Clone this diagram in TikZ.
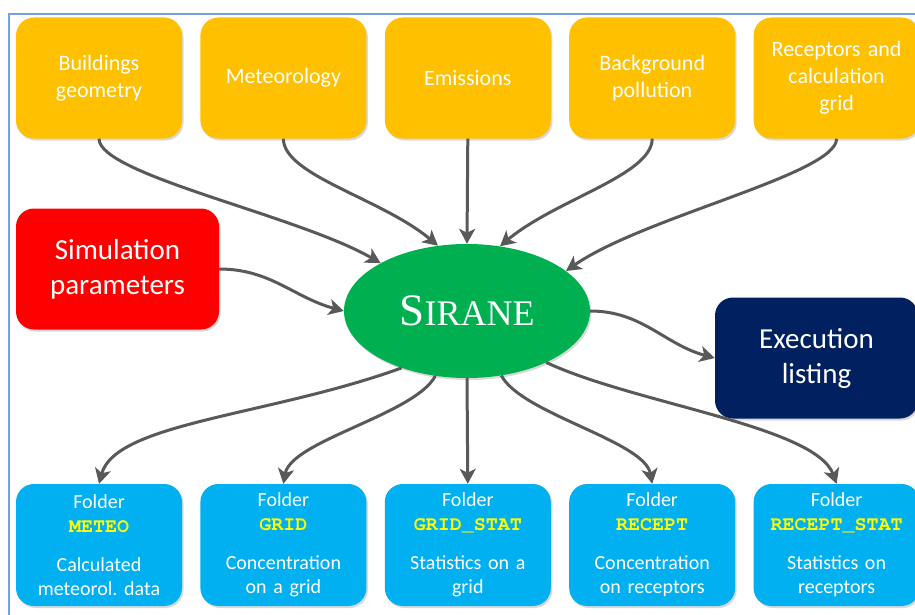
\documentclass[tikz,border=0pt]{standalone}
\usepackage{fontspec}
\setmainfont{Carlito}
\setmonofont{TeX Gyre Cursor}
\newfontfamily\sirfont{Liberation Serif}
\usetikzlibrary{positioning, arrows.meta, shapes.geometric, shadows}
\definecolor{boxorange}{RGB}{255,192,0}
\definecolor{simred}{RGB}{255,0,0}
\definecolor{sirgreen}{RGB}{0,176,80}
\definecolor{exenavy}{RGB}{0,32,96}
\definecolor{folderblue}{RGB}{0,176,240}
\definecolor{arrowgray}{RGB}{89,89,89}
\definecolor{frameblue}{RGB}{120,160,220}
\definecolor{keyyellow}{RGB}{255,255,0}
\newcommand{\foldername}[1]{{\color{keyyellow}\ttfamily\bfseries #1}}
\tikzset{
	box/.style={rounded corners=18pt, minimum width=166pt, minimum height=121pt, text width=150pt, align=center, text=white, inner sep=0pt, drop shadow={opacity=0.3, shadow xshift=1.5pt, shadow yshift=-2pt}}, % Cajas redondeadas
	input/.style={box, fill=boxorange, font=\fontsize{22}{27}\selectfont}, % Datos de entrada
	folder/.style={box, fill=folderblue, minimum height=122pt, font=\fontsize{20}{24}\selectfont}, % Carpetas de salida
	big/.style={box, minimum width=203pt, text width=190pt, font=\fontsize{29}{35}\selectfont}, % Cajas laterales
	core/.style={ellipse, fill=sirgreen, minimum width=246pt, minimum height=134pt, inner sep=0pt, text=white, drop shadow={opacity=0.3, shadow xshift=1.5pt, shadow yshift=-2pt}}, % Nodo central
	flow/.style={draw=arrowgray, line width=3pt, -{Stealth[length=15pt, width=16pt, inset=4pt]}}, % Flechas
	frame/.style={draw=frameblue, line width=1.2pt} % Marco
}

\begin{document}
\begin{tikzpicture}[x=1pt, y=1pt, every edge/.style={flow}]
	\clip (0,0) rectangle (915,-615);
	\draw[frame] (9,-615) -- (9,-14) -- (915,-14);

	\node[input] (bld) at (99,-78) {Buildings\\geometry};
	\node[input, right=18pt of bld] (met) {Meteorology};
	\node[input, right=18pt of met] (emi) {Emissions};
	\node[input, right=18pt of emi] (bkg) {Background\\pollution};
	\node[input, right=18pt of bkg] (rec) {Receptors and\\calculation\\grid};

	\node[big, fill=simred] (sim) at (117.5,-269) {Simulation\\parameters};
	\node[core] (sir) at (467,-311) {\sirfont\fontsize{45}{45}\selectfont S\fontsize{36}{36}\selectfont IRANE};
	\node[big, fill=exenavy] (exe) at (816.5,-358) {Execution\\listing};

	\node[folder] (fmet) at (99,-545) {Folder\\\foldername{METEO}\\[15pt]Calculated\\meteorol.\ data};
	\node[folder, right=18pt of fmet] (fgrd) {Folder\\\foldername{GRID}\\[15pt]Concentration\\on a grid};
	\node[folder, right=18pt of fgrd] (fgst) {Folder\\\foldername{GRID\_STAT}\\[15pt]Statistics on a\\grid};
	\node[folder, right=18pt of fgst] (frec) {Folder\\\foldername{RECEPT}\\[15pt]Concentration\\on receptors};
	\node[folder, right=18pt of frec] (frst) {Folder\\\foldername{RECEPT\_STAT}\\[15pt]Statistics on\\receptors};

	\path	(bld.south) edge[out=-90, in=150, out looseness=.3, in looseness=.8] (sir.151)
			(met.south) edge[out=-90, in=140, out looseness=.5] (sir.114)
			(emi.south) edge (sir.north)
			(bkg.south) edge[out=-90, in=40, out looseness=.5] (sir.63)
			(rec.south) edge[out=-90, in=35, out looseness=.3, in looseness=.8] (sir.22)
			(sim.east) edge[out=0, in=165] (sir.west)
			(sir.east) edge[out=0, in=165] (exe.west)

			(sir.221) edge[out=200, in=75, out looseness=1.1, in looseness=.5] (fmet.north)
			(sir.244) edge[out=-118, in=80, looseness=.6] (fgrd.north)
			(sir.south) edge (fgst.north)
			(sir.298) edge[out=-62, in=100, looseness=.6] (frec.north)
			(sir.327) edge[out=-25, in=110, out looseness=.8, in looseness=.5] (frst.north);
\end{tikzpicture}
\end{document}
